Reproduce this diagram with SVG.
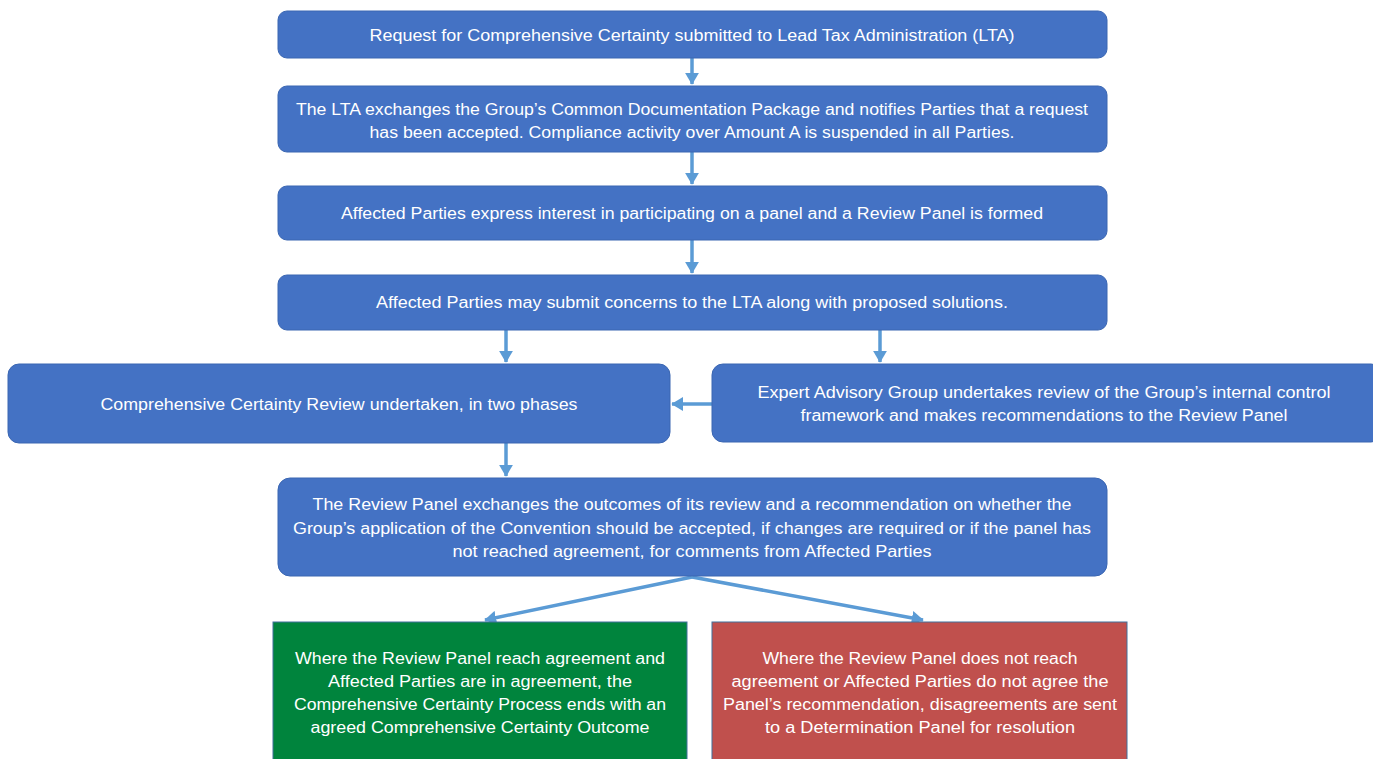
<svg xmlns="http://www.w3.org/2000/svg" width="1373" height="759" viewBox="0 0 1373 759">
<defs>
<marker id="ah" markerWidth="4" markerHeight="4" refX="3.2" refY="2" orient="auto" markerUnits="strokeWidth">
<path d="M0,0 L3.4,2 L0,4 Z" fill="#5B9BD5"/>
</marker>
<style>
.box{fill:#4472C4;stroke:#3A66B2;stroke-width:1}
.g{fill:#00843D;stroke:#41719C;stroke-width:1}
.r{fill:#C0504D;stroke:#41719C;stroke-width:1}
text{font-family:"Liberation Sans",Arial,sans-serif;font-size:16px;fill:#FFFFFF;text-anchor:middle}
.c line{stroke:#5B9BD5;stroke-width:3.5;marker-end:url(#ah)}
</style>
</defs>
<rect width="1373" height="759" fill="#FFFFFF"/>
<g class="c" id="connectors">
<line x1="692" y1="58" x2="692" y2="84"/>
<line x1="692" y1="152" x2="692" y2="184"/>
<line x1="692" y1="240" x2="692" y2="273"/>
<line x1="506" y1="330" x2="506" y2="362"/>
<line x1="880" y1="330" x2="880" y2="362"/>
<line x1="712" y1="404" x2="672" y2="404"/>
<line x1="506" y1="443" x2="506" y2="476"/>
<line x1="692" y1="577" x2="485" y2="620"/>
<line x1="692" y1="577" x2="923" y2="620"/>
</g>
<g id="n1"><rect class="box" x="278" y="11" width="829" height="47" rx="9"/>
<text x="692" y="41" textLength="645" lengthAdjust="spacingAndGlyphs">Request for Comprehensive Certainty submitted to Lead Tax Administration (LTA)</text></g>
<g id="n2"><rect class="box" x="278" y="86" width="829" height="66" rx="9"/>
<text x="692" y="115" textLength="792" lengthAdjust="spacingAndGlyphs">The LTA exchanges the Group’s Common Documentation Package and notifies Parties that a request</text>
<text x="692" y="138" textLength="645" lengthAdjust="spacingAndGlyphs">has been accepted. Compliance activity over Amount A is suspended in all Parties.</text></g>
<g id="n3"><rect class="box" x="278" y="186" width="829" height="54" rx="9"/>
<text x="692" y="219" textLength="702" lengthAdjust="spacingAndGlyphs">Affected Parties express interest in participating on a panel and a Review Panel is formed</text></g>
<g id="n4"><rect class="box" x="278" y="275" width="829" height="55" rx="9"/>
<text x="692" y="308" textLength="632" lengthAdjust="spacingAndGlyphs">Affected Parties may submit concerns to the LTA along with proposed solutions.</text></g>
<g id="n5"><rect class="box" x="8" y="364" width="662" height="79" rx="11"/>
<text x="339" y="410" textLength="477" lengthAdjust="spacingAndGlyphs">Comprehensive Certainty Review undertaken, in two phases</text></g>
<g id="n6"><rect class="box" x="712" y="364" width="670" height="78" rx="11"/>
<text x="1044" y="398" textLength="573" lengthAdjust="spacingAndGlyphs">Expert Advisory Group undertakes review of the Group’s internal control</text>
<text x="1044" y="421" textLength="487" lengthAdjust="spacingAndGlyphs">framework and makes recommendations to the Review Panel</text></g>
<g id="n7"><rect class="box" x="278" y="478" width="829" height="98" rx="12"/>
<text x="692" y="510" textLength="759" lengthAdjust="spacingAndGlyphs">The Review Panel exchanges the outcomes of its review and a recommendation on whether the</text>
<text x="692" y="534" textLength="798" lengthAdjust="spacingAndGlyphs">Group’s application of the Convention should be accepted, if changes are required or if the panel has</text>
<text x="692" y="557" textLength="479" lengthAdjust="spacingAndGlyphs">not reached agreement, for comments from Affected Parties</text></g>
<g id="n8"><rect class="g" x="273" y="622" width="414" height="150"/>
<text x="480" y="664" textLength="370" lengthAdjust="spacingAndGlyphs">Where the Review Panel reach agreement and</text>
<text x="480" y="687" textLength="304" lengthAdjust="spacingAndGlyphs">Affected Parties are in agreement, the</text>
<text x="480" y="710" textLength="372" lengthAdjust="spacingAndGlyphs">Comprehensive Certainty Process ends with an</text>
<text x="480" y="733" textLength="339" lengthAdjust="spacingAndGlyphs">agreed Comprehensive Certainty Outcome</text></g>
<g id="n9"><rect class="r" x="712" y="622" width="415" height="150"/>
<text x="920" y="664" textLength="315" lengthAdjust="spacingAndGlyphs">Where the Review Panel does not reach</text>
<text x="920" y="687" textLength="377" lengthAdjust="spacingAndGlyphs">agreement or Affected Parties do not agree the</text>
<text x="920" y="710" textLength="394" lengthAdjust="spacingAndGlyphs">Panel’s recommendation, disagreements are sent</text>
<text x="920" y="733" textLength="310" lengthAdjust="spacingAndGlyphs">to a Determination Panel for resolution</text></g>
</svg>
